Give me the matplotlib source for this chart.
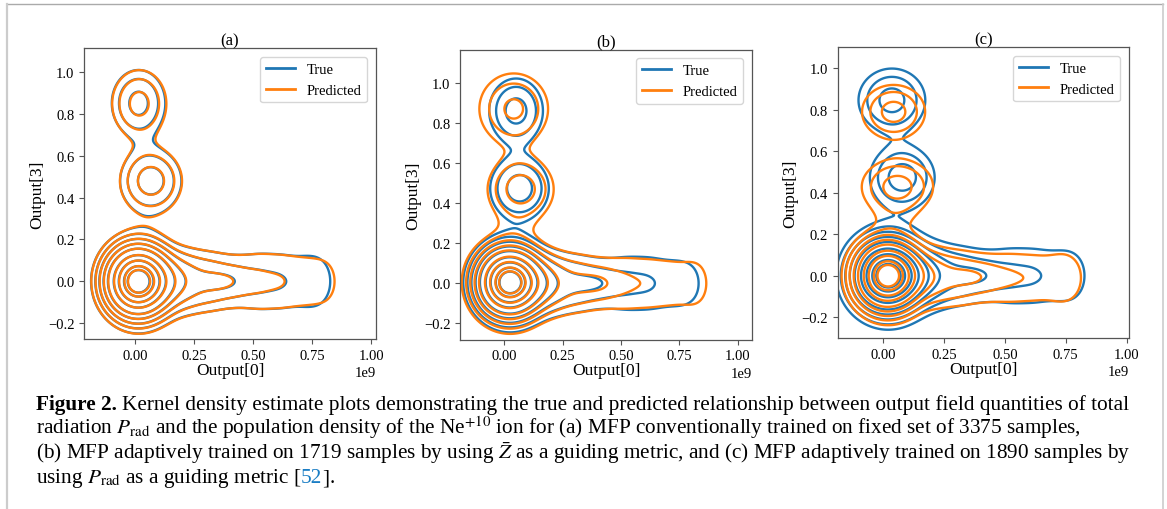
import numpy as np
import matplotlib
matplotlib.use('Agg')
from matplotlib import pyplot as plt
from matplotlib.lines import Line2D

plt.rcParams['font.family'] = ['Liberation Serif', 'DejaVu Serif']
plt.rcParams['mathtext.fontset'] = 'stix'

BLUE = '#1f77b4'
ORANGE = '#ff7f0e'

# density heights at which the contour lines are drawn
levels = [0.04, 0.068, 0.109, 0.171, 0.26, 0.418, 0.582, 0.757, 0.867]

# gaussian pieces:
# x centre (units of 1e9), y centre, x width, y width, height
a_true = np.array([
    [0.010, 0.000, 0.075, 0.092, 0.950],
    [0.120, 0.000, 0.070, 0.075, 0.100],
    [0.030, 0.000, 0.120, 0.170, 0.045],
    [0.220, 0.000, 0.060, 0.100, 0.078],
    [0.320, 0.000, 0.060, 0.100, 0.072],
    [0.420, 0.000, 0.060, 0.100, 0.055],
    [0.520, 0.000, 0.060, 0.120, 0.050],
    [0.620, 0.000, 0.060, 0.120, 0.048],
    [0.720, 0.000, 0.060, 0.130, 0.036],
    [0.800, 0.000, 0.060, 0.130, 0.036],
    [0.380, 0.000, 0.060, 0.035, 0.030],
    [0.015, 0.850, 0.075, 0.105, 0.125],
    [0.067, 0.480, 0.083, 0.097, 0.134],
])
a_pred = np.array([
    [0.012, 0.000, 0.075, 0.092, 0.950],
    [0.120, 0.000, 0.070, 0.075, 0.100],
    [0.030, 0.000, 0.122, 0.172, 0.047],
    [0.220, 0.000, 0.060, 0.100, 0.078],
    [0.320, 0.000, 0.060, 0.100, 0.072],
    [0.420, 0.000, 0.060, 0.100, 0.055],
    [0.520, 0.000, 0.060, 0.120, 0.050],
    [0.620, 0.000, 0.060, 0.120, 0.047],
    [0.720, 0.000, 0.060, 0.130, 0.038],
    [0.820, 0.000, 0.060, 0.130, 0.039],
    [0.375, 0.000, 0.060, 0.035, 0.028],
    [0.018, 0.848, 0.076, 0.106, 0.125],
    [0.068, 0.480, 0.084, 0.098, 0.134],
])
b_true = np.array([
    [0.020, 0.005, 0.075, 0.092, 0.950],
    [0.130, 0.000, 0.070, 0.075, 0.100],
    [0.040, 0.000, 0.120, 0.170, 0.045],
    [0.220, 0.000, 0.060, 0.100, 0.078],
    [0.320, 0.000, 0.060, 0.100, 0.072],
    [0.420, 0.000, 0.060, 0.100, 0.055],
    [0.520, 0.000, 0.060, 0.120, 0.050],
    [0.620, 0.000, 0.060, 0.120, 0.049],
    [0.720, 0.000, 0.060, 0.130, 0.036],
    [0.810, 0.000, 0.060, 0.130, 0.036],
    [0.380, 0.000, 0.060, 0.035, 0.028],
    [0.050, 0.860, 0.075, 0.105, 0.130],
    [0.065, 0.475, 0.080, 0.097, 0.135],
])
b_pred = np.array([
    [0.020, 0.005, 0.077, 0.094, 0.950],
    [0.130, 0.000, 0.070, 0.075, 0.100],
    [0.035, -0.005, 0.125, 0.175, 0.047],
    [0.220, 0.000, 0.060, 0.100, 0.078],
    [0.320, 0.000, 0.060, 0.100, 0.073],
    [0.420, 0.000, 0.060, 0.100, 0.058],
    [0.520, 0.000, 0.060, 0.120, 0.047],
    [0.620, 0.000, 0.060, 0.120, 0.044],
    [0.720, 0.000, 0.060, 0.130, 0.038],
    [0.830, 0.000, 0.060, 0.130, 0.045],
    [0.390, 0.000, 0.060, 0.035, 0.035],
    [0.050, 0.290, 0.070, 0.050, 0.012],
    [0.040, 0.870, 0.100, 0.120, 0.118],
    [0.070, 0.470, 0.090, 0.100, 0.135],
])
c_true = np.array([
    [0.015, 0.000, 0.080, 0.096, 0.950],
    [0.125, 0.000, 0.070, 0.075, 0.100],
    [0.035, 0.000, 0.125, 0.175, 0.048],
    [0.220, 0.000, 0.060, 0.100, 0.078],
    [0.320, 0.000, 0.060, 0.100, 0.072],
    [0.420, 0.000, 0.060, 0.100, 0.055],
    [0.520, 0.000, 0.060, 0.120, 0.050],
    [0.620, 0.000, 0.060, 0.120, 0.049],
    [0.720, 0.000, 0.060, 0.130, 0.036],
    [0.800, 0.000, 0.060, 0.130, 0.036],
    [0.380, 0.000, 0.060, 0.035, 0.030],
    [0.035, 0.846, 0.090, 0.100, 0.128],
    [0.078, 0.475, 0.085, 0.095, 0.134],
])
c_pred = np.array([
    [0.015, 0.000, 0.072, 0.089, 0.950],
    [0.120, 0.000, 0.070, 0.070, 0.100],
    [0.035, 0.000, 0.110, 0.160, 0.042],
    [0.220, -0.010, 0.060, 0.095, 0.078],
    [0.320, -0.010, 0.060, 0.095, 0.071],
    [0.420, -0.010, 0.060, 0.095, 0.054],
    [0.520, -0.010, 0.060, 0.110, 0.047],
    [0.620, -0.010, 0.060, 0.110, 0.044],
    [0.720, -0.010, 0.060, 0.115, 0.034],
    [0.780, -0.010, 0.060, 0.115, 0.034],
    [0.370, -0.005, 0.060, 0.035, 0.025],
    [0.050, 0.280, 0.070, 0.050, 0.018],
    [0.042, 0.790, 0.085, 0.085, 0.128],
    [0.058, 0.430, 0.095, 0.085, 0.130],
])

titles = ['(a)', '(b)', '(c)']
series = [(a_true, a_pred), (b_true, b_pred), (c_true, c_pred)]
x_limits = [(-0.216, 1.021), (-0.190, 1.061), (-0.188, 1.010)]
y_limits = [(-0.275, 1.112), (-0.281, 1.165), (-0.300, 1.101)]
x_ticks = [0.0, 0.25, 0.5, 0.75, 1.0]
y_ticks = [-0.2, 0.0, 0.2, 0.4, 0.6, 0.8, 1.0]

# grid for the density surface
gx, gy = np.meshgrid(np.linspace(-0.35, 1.2, 500), np.linspace(-0.45, 1.3, 500))


def density(rows):
    z = np.zeros_like(gx)
    for cx, cy, sx, sy, h in rows:
        z += h * np.exp(-0.5 * (((gx - cx) / sx) ** 2 + ((gy - cy) / sy) ** 2))
    return z


fig = plt.figure(figsize=(11.67, 5.10), dpi=100)
positions = [[0.0720, 0.3333, 0.2502, 0.5700],
             [0.3942, 0.3320, 0.2502, 0.5686],
             [0.7178, 0.3353, 0.2496, 0.5700]]

for i in range(3):
    ax = fig.add_axes(positions[i])
    true_rows, pred_rows = series[i]
    ax.contour(gx * 1e9, gy, density(true_rows), levels=levels, colors=BLUE, linewidths=1.7)
    ax.contour(gx * 1e9, gy, density(pred_rows), levels=levels, colors=ORANGE, linewidths=1.7)
    ax.set_xlim(x_limits[i][0] * 1e9, x_limits[i][1] * 1e9)
    ax.set_ylim(*y_limits[i])
    ax.set_xticks([t * 1e9 for t in x_ticks])
    ax.set_yticks(y_ticks)
    ax.tick_params(labelsize=10.5, length=3.5, width=0.8, color='#555555')
    ax.xaxis.get_offset_text().set_fontsize(10.5)
    for sp in ax.spines.values():
        sp.set_color('#555555')
        sp.set_linewidth(0.9)
    ax.set_xlabel('Output[0]', fontsize=12.5, labelpad=0)
    ax.set_ylabel('Output[3]', fontsize=12.5, labelpad=2)
    ax.set_title(titles[i], fontsize=12, pad=3)
    handles = [Line2D([], [], color=BLUE, lw=2), Line2D([], [], color=ORANGE, lw=2)]
    ax.legend(handles, ['True', 'Predicted'], loc='upper right', fontsize=10.5,
              borderaxespad=0.6)

# page frame around the figure
fig.add_artist(Line2D([0.006, 0.9965], [0.990, 0.990], color='#aaaaaa', lw=1.0))
fig.add_artist(Line2D([0.0063, 0.0063], [0.0, 0.990], color='#cccccc', lw=1.6))
fig.add_artist(Line2D([0.9965, 0.9965], [0.0, 0.990], color='#cccccc', lw=1.2))

# caption
cap_size = 15.3
renderer = fig.canvas.get_renderer()


def put_line(segments, x, y):
    for text, weight, color in segments:
        t = fig.text(x, y, text, fontsize=cap_size, fontweight=weight, color=color,
                     va='baseline', ha='left')
        x += t.get_window_extent(renderer).width / fig.bbox.width
    return x


space = (fig.text(0, 0, 'x x', fontsize=cap_size).get_window_extent(renderer).width
         - fig.text(0, 0, 'xx', fontsize=cap_size).get_window_extent(renderer).width)
for t in fig.texts[-2:]:
    t.remove()

x0 = 35.7 / 1167
base = [1 - 410 / 510, 1 - 434.4 / 510, 1 - 458.8 / 510, 1 - 483.2 / 510]
x1 = put_line([('Figure 2.', 'bold', 'black')], x0, base[0])
put_line([('Kernel density estimate plots demonstrating the true and predicted relationship '
           'between output field quantities of total', 'normal', 'black')],
         x1 + space / fig.bbox.width, base[0])
put_line([(r'radiation $P_{\mathrm{rad}}$ and the population density of the Ne$^{+10}$ ion for '
           r'(a) MFP conventionally trained on fixed set of 3375 samples,', 'normal', 'black')],
         x0, base[1])
put_line([(r'(b) MFP adaptively trained on 1719 samples by using $\bar{Z}$ as a guiding metric, '
           r'and (c) MFP adaptively trained on 1890 samples by', 'normal', 'black')],
         x0, base[2])
put_line([(r'using $P_{\mathrm{rad}}$ as a guiding metric [', 'normal', 'black'),
          ('52', 'normal', '#1a7dc4'),
          (']', 'normal', 'black'), ('.', 'normal', 'black')],
         x0, base[3])

fig.savefig('out.png', dpi=100)
